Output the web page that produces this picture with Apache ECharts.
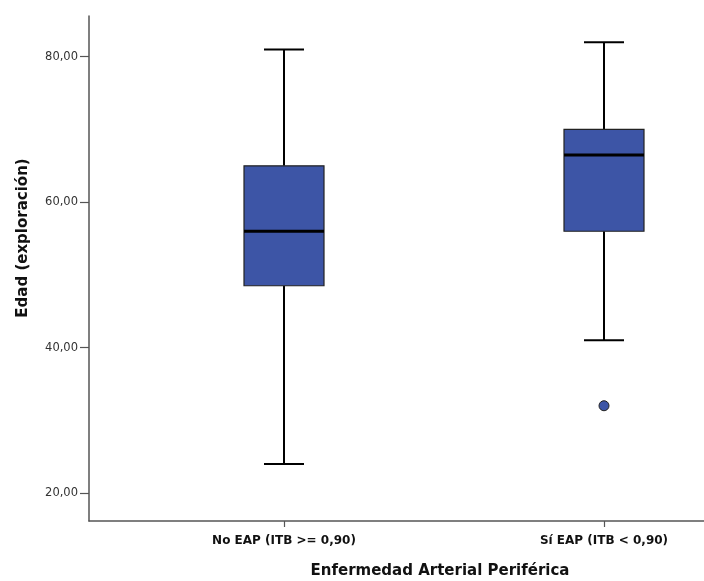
<!DOCTYPE html>
<html>
<head>
<meta charset="utf-8">
<script src="https://cdn.jsdelivr.net/npm/echarts@6/dist/echarts.min.js"></script>
<style>html,body{margin:0;padding:0;background:#fff}#c{width:704px;height:581px}</style>
</head>
<body>
<div id="c"></div>
<script>
const categories = ['No EAP (ITB >= 0,90)', 'Sí EAP (ITB < 0,90)'];
const lowWhisker = [24, 41];
const q1Values = [48.5, 56];
const medianValues = [56, 66.5];
const q3Values = [65, 70];
const highWhisker = [81, 82];
const outliers = [[1, 32]];
const yTicks = [20, 40, 60, 80];
const xTitle = 'Enfermedad Arterial Periférica';
const yTitle = 'Edad (exploración)';

const boxData = categories.map((c, i) => [i, lowWhisker[i], q1Values[i], medianValues[i], q3Values[i], highWhisker[i]]);
const BLUE = '#3d55a6';

function renderBox(params, api) {
  const x = api.value(0);
  const lo = api.coord([x, api.value(1)]);
  const q1 = api.coord([x, api.value(2)]);
  const md = api.coord([x, api.value(3)]);
  const q3 = api.coord([x, api.value(4)]);
  const hi = api.coord([x, api.value(5)]);
  const cx = Math.round(lo[0]);
  const bw = 80, cw = 40;
  const ls = {stroke: '#000', lineWidth: 2};
  return {type: 'group', children: [
    {type: 'line', shape: {x1: cx, y1: hi[1], x2: cx, y2: q3[1]}, style: ls},
    {type: 'line', shape: {x1: cx, y1: q1[1], x2: cx, y2: lo[1]}, style: ls},
    {type: 'line', shape: {x1: cx - cw/2, y1: hi[1], x2: cx + cw/2, y2: hi[1]}, style: ls},
    {type: 'line', shape: {x1: cx - cw/2, y1: lo[1], x2: cx + cw/2, y2: lo[1]}, style: ls},
    {type: 'rect', shape: {x: cx - bw/2, y: q3[1], width: bw, height: q1[1] - q3[1]}, style: {fill: BLUE, stroke: '#222', lineWidth: 1.2}},
    {type: 'line', shape: {x1: cx - bw/2, y1: md[1], x2: cx + bw/2, y2: md[1]}, style: {stroke: '#000', lineWidth: 3}}
  ]};
}

const chart = echarts.init(document.getElementById('c'), null, {renderer: 'canvas'});
chart.setOption({
  animation: false,
  backgroundColor: '#fff',
  grid: {left: 89, top: 16, right: 0, bottom: 60, containLabel: false},
  xAxis: {
    type: 'value', min: -0.609375, max: 1.3125,
    splitLine: {show: false},
    axisLine: {show: true, onZero: false, lineStyle: {color: '#555', width: 1.5}},
    axisTick: {show: true, customValues: [0, 1], length: 6, lineStyle: {color: '#555', width: 1.2}},
    axisLabel: {customValues: [0, 1], formatter: v => categories[Math.round(v)], color: '#111', fontFamily: 'DejaVu Sans', fontWeight: 'bold', fontSize: 12, margin: 14}
  },
  yAxis: {
    type: 'value', min: 16.15, max: 85.6,
    splitLine: {show: false},
    axisLine: {show: true, onZero: false, lineStyle: {color: '#555', width: 1.5}},
    axisTick: {show: true, customValues: yTicks, length: 9, lineStyle: {color: '#555', width: 1.2}},
    axisLabel: {customValues: yTicks, formatter: v => v.toFixed(2).replace('.', ','), color: '#333', fontFamily: 'DejaVu Sans', fontSize: 11.5, margin: 11}
  },
  graphic: [
    {type: 'text', x: 440, y: 571, style: {text: xTitle, fill: '#111', font: 'bold 15px "DejaVu Sans"', textAlign: 'center', textVerticalAlign: 'middle'}},
    {type: 'text', x: 23, y: 238, rotation: Math.PI/2, style: {text: yTitle, fill: '#111', font: 'bold 15px "DejaVu Sans"', textAlign: 'center', textVerticalAlign: 'middle'}}
  ],
  series: [
    {type: 'custom', renderItem: renderBox, data: boxData, encode: {x: 0, y: [1, 2, 3, 4, 5]}, clip: false},
    {type: 'scatter', data: outliers, symbol: 'circle', symbolSize: 10, itemStyle: {color: BLUE, opacity: 1, borderColor: '#222', borderWidth: 1}}
  ]
});
</script>
</body>
</html>
